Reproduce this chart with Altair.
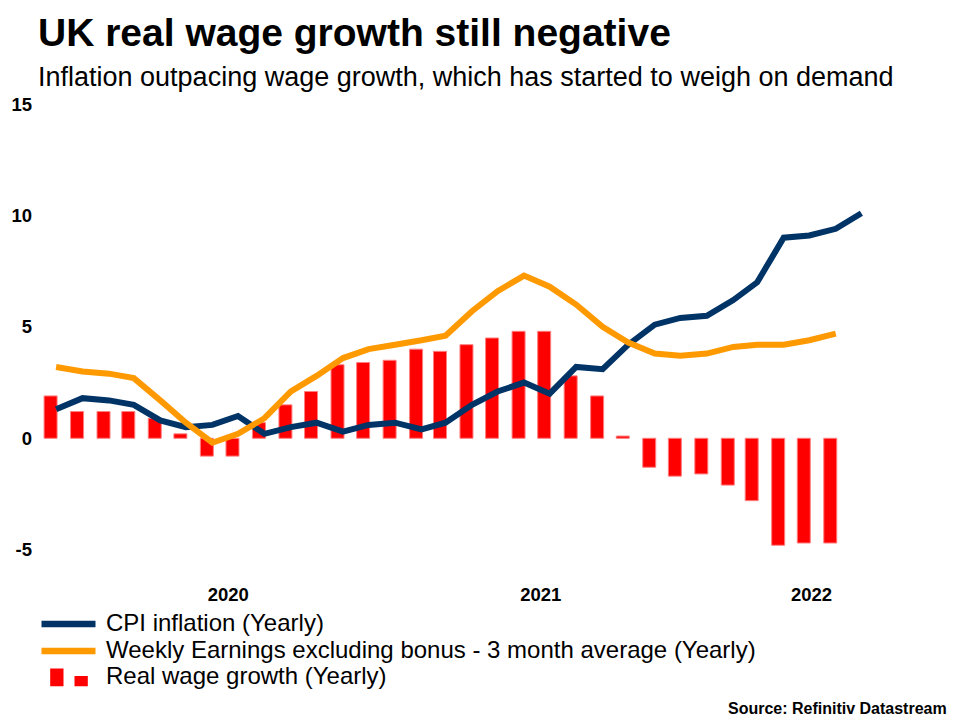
import altair as alt
import pandas as pd

months = ["2019-12", "2020-01", "2020-02", "2020-03", "2020-04", "2020-05", "2020-06",
          "2020-07", "2020-08", "2020-09", "2020-10", "2020-11", "2020-12", "2021-01",
          "2021-02", "2021-03", "2021-04", "2021-05", "2021-06", "2021-07", "2021-08",
          "2021-09", "2021-10", "2021-11", "2021-12", "2022-01", "2022-02", "2022-03",
          "2022-04", "2022-05", "2022-06", "2022-07"]

cpi = [1.3, 1.8, 1.7, 1.5, 0.8, 0.5, 0.6, 1.0, 0.2, 0.5, 0.7, 0.3, 0.6, 0.7, 0.4, 0.7,
       1.5, 2.1, 2.5, 2.0, 3.2, 3.1, 4.2, 5.1, 5.4, 5.5, 6.2, 7.0, 9.0, 9.1, 9.4, 10.1]

wages = [3.2, 3.0, 2.9, 2.7, 1.7, 0.7, -0.2, 0.2, 0.9, 2.1, 2.8, 3.6, 4.0, 4.2, 4.4, 4.6,
         5.7, 6.6, 7.3, 6.8, 6.0, 5.0, 4.3, 3.8, 3.7, 3.8, 4.1, 4.2, 4.2, 4.4, 4.7]

real = [1.9, 1.2, 1.2, 1.2, 0.9, 0.2, -0.8, -0.8, 0.7, 1.5, 2.1, 3.3, 3.4, 3.5, 4.0, 3.9,
        4.2, 4.5, 4.8, 4.8, 2.8, 1.9, 0.1, -1.3, -1.7, -1.6, -2.1, -2.8, -4.8, -4.7, -4.7]

series = ["CPI inflation (Yearly)",
          "Weekly Earnings excluding bonus - 3 month average (Yearly)",
          "Real wage growth (Yearly)"]
colors = ["#003366", "#ff9900", "#ff0000"]

y_ticks = [-5, 0, 5, 10, 15]
title_text = "UK real wage growth still negative"
subtitle_text = "Inflation outpacing wage growth, which has started to weigh on demand"
source_text = "Source: Refinitiv Datastream"

FONT = "Liberation Sans"

df_cpi = pd.DataFrame({"date": months, "value": cpi, "series": series[0]})
df_wage = pd.DataFrame({"date": months[:len(wages)], "value": wages, "series": series[1]})
df_real = pd.DataFrame({"date": months[:len(real)], "value": real, "series": series[2]})
df_src = pd.DataFrame({"text": [source_text]})

x_enc = alt.X(
    "date:T",
    scale=alt.Scale(type="utc", domain=[alt.DateTime(year=2019, month=11, date=11, utc=True),
                                        alt.DateTime(year=2022, month=9, date=17, utc=True)]),
    axis=alt.Axis(values=[alt.DateTime(year=2020, month=6, date=19, utc=True),
                          alt.DateTime(year=2021, month=6, date=20, utc=True),
                          alt.DateTime(year=2022, month=5, date=3, utc=True)],
                  format="%Y", title=None, domain=False, ticks=False, grid=False,
                  labelFont=FONT, labelFontSize=18.5, labelFontWeight="bold",
                  labelColor="black", labelPadding=13, labelFlush=False),
)
y_enc = alt.Y(
    "value:Q",
    scale=alt.Scale(domain=[-6, 15], nice=False, zero=False),
    axis=alt.Axis(values=y_ticks, title=None, domain=False, ticks=False, grid=False,
                  labelExpr="'' + datum.value",
                  labelFont=FONT, labelFontSize=18.5, labelFontWeight="bold",
                  labelColor="black", labelPadding=2.5),
)

R = series[2]
bar_path = "M-1.83,-0.84H-0.5V0.93H-1.83Z M0.6,-0.1H1.93V0.93H0.6Z"
line_path = "M-2.7,0H2.7"
legend = alt.Legend(
    title=None, orient="none", legendX=22.5, legendY=508, padding=0,
    labelFont=FONT, labelFontSize=24, labelColor="black", labelOffset=25.5,
    labelLimit=900, rowPadding=1, symbolSize=400,
    symbolType=alt.ExprRef(expr=f"datum.value === '{R}' ? '{bar_path}' : '{line_path}'"),
    symbolStrokeWidth=alt.ExprRef(expr=f"datum.value === '{R}' ? 0 : 6.5"),
    symbolOpacity=1,
)
color_enc = alt.Color("series:N", scale=alt.Scale(domain=series, range=colors), legend=legend)

bars = alt.Chart(df_real).mark_bar(width=13, xOffset=-5.5).encode(
    x=x_enc, y=y_enc, color=color_enc)
bars_edge = alt.Chart(df_real).mark_bar(width=13, xOffset=-5.5, filled=False,
                                        stroke="#ff7f7f", strokeWidth=1).encode(x=x_enc, y=y_enc)
line_cpi = alt.Chart(df_cpi).mark_line(strokeWidth=6).encode(x=x_enc, y=y_enc, color=color_enc)
line_wage = alt.Chart(df_wage).mark_line(strokeWidth=6).encode(x=x_enc, y=y_enc, color=color_enc)
src = alt.Chart(df_src).mark_text(align="right", baseline="alphabetic", font=FONT, fontSize=16,
                                  fontWeight="bold", color="black").encode(
    text="text:N", x=alt.value(912.7), y=alt.value(610))

chart = alt.layer(bars, bars_edge, line_cpi, line_wage, src).properties(
    width=899, height=468,
    autosize=alt.AutoSizeParams(type="none"),
    padding={"left": 34, "top": 104, "right": 27, "bottom": 148},
    title=alt.TitleParams(
        text=title_text, subtitle=subtitle_text, anchor="start", frame="group",
        font=FONT, fontSize=39, fontWeight="bold", color="black",
        subtitleFont=FONT, subtitleFontSize=27, subtitleColor="black",
        subtitlePadding=11, offset=4, dx=4),
).configure(background="white", view=alt.ViewConfig(stroke=None))

chart.save("out.html", embed_options={"renderer": "svg", "actions": False})
